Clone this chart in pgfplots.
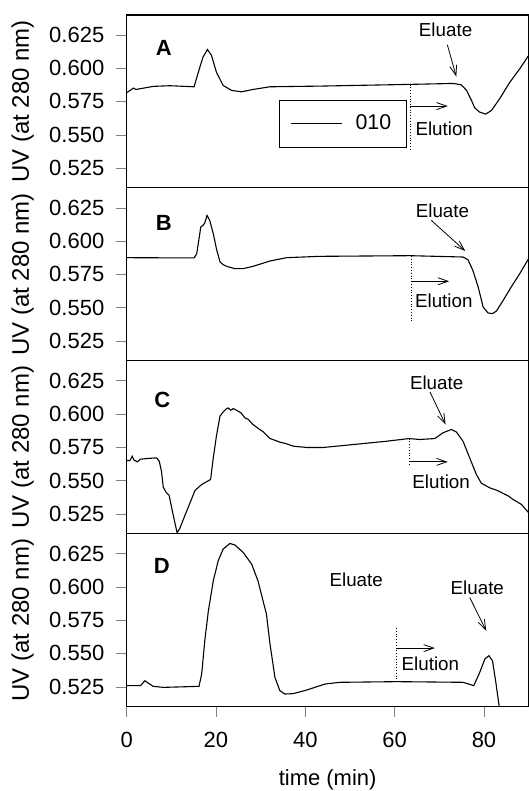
\documentclass[border=0pt]{standalone}
\usepackage{fontspec}
\setmainfont{Liberation Sans}
\usepackage{pgfplots}
\pgfplotsset{compat=1.18}
\usepgfplotslibrary{groupplots}
\usetikzlibrary{arrows.meta}

\newcommand{\tickfont}{\fontsize{11}{13}\selectfont}
\newcommand{\notefont}{\fontsize{9.4}{11}\selectfont}

\tikzset{
  eluate/.style={-{Straight Barb[length=5pt,width=3.5pt]}, line width=0.4pt},
  startline/.style={densely dotted, line width=0.4pt},
}

\pgfplotsset{
  trace/.style={black, line width=0.55pt, mark=none},
  panel/.style={
    width=201.15pt, height=86.5pt, scale only axis,
    xmin=0, xmax=90, ymin=0.5101, ymax=0.6399,
    ytick={0.525,0.550,0.575,0.600,0.625},
    yticklabel style={/pgf/number format/fixed,
      /pgf/number format/precision=3,
      /pgf/number format/fixed zerofill, xshift=-2.5pt},
    xticklabel style={yshift=-4pt},
    /pgf/number format/assume math mode=true,
    tick label style={font=\tickfont},
    tick align=outside, major tick length=5.15pt,
    ytick pos=left, xtick pos=lower,
    axis line style={line width=0.6pt},
    ylabel={UV (at 280 nm)},
    ylabel style={at={(axis description cs:-0.2585,0.5)}, anchor=center,
      font=\fontsize{12}{14}\selectfont},
  },
}

\begin{document}
\begin{tikzpicture}
\begin{groupplot}[
  group style={group name=G, group size=1 by 4, vertical sep=0pt},
  panel]

% ---- A
\nextgroupplot[xtick=\empty,
  legend style={at={(0.3793,0.509)}, anchor=north west, draw=black,
    inner xsep=5.7pt, inner ysep=5.3pt, column sep=4.3pt,
    font=\fontsize{10.7}{12}\selectfont},
  legend image code/.code={\draw[#1] (0pt,0pt) -- (25.5pt,0pt);}]
\addplot[trace] coordinates {
 (0,0.5815) (1.1,0.584) (1.5,0.585) (2.1,0.584) (6.0,0.5863) (9.7,0.5868)
 (15.1,0.586) (16.4,0.6008) (17.1,0.6083) (18.1,0.614) (19.0,0.6095)
 (20.1,0.597) (21.6,0.587) (23.5,0.5833) (25.7,0.5822) (28.3,0.584)
 (32.1,0.586) (43.2,0.5865) (63.4,0.5878) (73.1,0.5885) (74.9,0.5875)
 (76.1,0.5833) (77.2,0.5758) (77.9,0.5703) (79.0,0.567) (80.4,0.5655)
 (81.7,0.5683) (83.5,0.577) (85.8,0.5895) (88.0,0.5995) (90.0,0.6095)
};
\addlegendentry{010}
\node[font=\fontsize{11}{13}\selectfont\bfseries] at (axis cs:8.3,0.6152) {A};
\draw[startline] (axis cs:63.5,0.5877) -- (axis cs:63.5,0.539);
\draw[eluate] (axis cs:63.5,0.5715) -- (axis cs:71.9,0.5715);
\node[font=\notefont] at (axis cs:71.1,0.5545) {Elution};
\node[font=\notefont] at (axis cs:71.4,0.629) {Eluate};
\draw[eluate] (axis cs:71.8,0.6175) -- (axis cs:73.8,0.5937);

% ---- B
\nextgroupplot[xtick=\empty]
\addplot[trace] coordinates {
 (0,0.5875) (15.1,0.5873) (15.7,0.5905) (16.6,0.6105) (17.1,0.6118)
 (17.5,0.6135) (18.0,0.6193) (18.6,0.6155) (19.4,0.6055) (20.1,0.5943)
 (20.9,0.5843) (21.6,0.5823) (22.4,0.581) (24.2,0.5793) (26.1,0.5793)
 (28.3,0.581) (32.1,0.585) (35.8,0.5875) (43.2,0.5885) (63.4,0.589)
 (75.3,0.588) (76.4,0.586) (77.5,0.578) (78.7,0.5655) (79.8,0.5505)
 (80.9,0.546) (81.9,0.5455) (82.8,0.5475) (84.3,0.5555) (86.1,0.5655)
 (88.0,0.5755) (90.0,0.5868)
};
\node[font=\fontsize{11}{13}\selectfont\bfseries] at (axis cs:8.3,0.6138) {B};
\draw[startline] (axis cs:63.8,0.5888) -- (axis cs:63.8,0.5393);
\draw[eluate] (axis cs:63.8,0.5698) -- (axis cs:72.2,0.5698);
\node[font=\notefont] at (axis cs:71.0,0.5555) {Elution};
\node[font=\notefont] at (axis cs:70.7,0.623) {Eluate};
\draw[eluate] (axis cs:68.2,0.6155) -- (axis cs:75.8,0.5925);

% ---- C
\nextgroupplot[xtick=\empty]
\addplot[trace] coordinates {
 (0,0.565) (0.75,0.565) (1.25,0.5683) (1.6,0.5655) (2.4,0.564) (3.1,0.566)
 (4.5,0.5665) (6.7,0.567) (7.3,0.5645) (7.8,0.557) (8.2,0.545) (8.9,0.5408)
 (9.5,0.539) (10.4,0.5245) (11.3,0.5108) (11.9,0.514) (13.0,0.5233)
 (14.2,0.5333) (15.3,0.5425) (16.8,0.547) (18.8,0.5508) (19.4,0.567)
 (20.1,0.5833) (20.9,0.5983) (21.6,0.6015) (22.2,0.6035) (22.7,0.6045)
 (23.3,0.6028) (23.9,0.6040) (25.0,0.602) (25.6,0.6008) (26.5,0.597)
 (27.2,0.5960) (28.3,0.592) (29.8,0.5883) (30.5,0.5868) (32.1,0.5815)
 (33.4,0.5800) (34.3,0.5788) (35.6,0.5778) (37.3,0.5758) (40.3,0.5748)
 (44.0,0.5748) (50.7,0.577) (58.2,0.5795) (63.2,0.5815) (65.6,0.5808)
 (69.0,0.5815) (70.8,0.5858) (72.7,0.5883) (73.8,0.5865) (75.3,0.5795)
 (76.8,0.567) (78.3,0.5545) (79.4,0.548) (81.3,0.5445) (83.0,0.5425)
 (84.3,0.5403) (85.4,0.5385) (86.5,0.5358) (88.4,0.532) (90.0,0.5258)
};
\node[font=\fontsize{11}{13}\selectfont\bfseries] at (axis cs:8.0,0.6108) {C};
\draw[startline] (axis cs:63.2,0.5815) -- (axis cs:63.2,0.562);
\draw[eluate] (axis cs:63.4,0.564) -- (axis cs:71.9,0.564);
\node[font=\notefont] at (axis cs:70.4,0.549) {Elution};
\node[font=\notefont] at (axis cs:69.4,0.6233) {Eluate};
\draw[eluate] (axis cs:67.9,0.6165) -- (axis cs:71.4,0.592);

% ---- D
\nextgroupplot[xtick={0,20,40,60,80},
  xlabel={time (min)},
  xlabel style={at={(axis description cs:0.5,-0.455)}, anchor=base,
    font=\fontsize{11}{13}\selectfont}]
\addplot[trace] coordinates {
 (0,0.5258) (3.1,0.5258) (4.1,0.5295) (4.8,0.5278) (5.95,0.5253) (8.2,0.5245)
 (13.4,0.525) (16.2,0.5253) (16.8,0.5345) (17.5,0.5595) (18.3,0.582)
 (19.4,0.6045) (20.5,0.6195) (21.6,0.6283) (23.1,0.6325) (24.2,0.6315)
 (26.1,0.6258) (28.0,0.617) (29.4,0.6045) (31.3,0.5795) (32.1,0.557)
 (33.2,0.532) (34.3,0.522) (35.4,0.5195) (37.3,0.5198) (40.3,0.5225)
 (44.4,0.527) (47.7,0.5283) (60.5,0.5288) (75.3,0.5283) (77.7,0.5258)
 (78.9,0.5345) (80.2,0.5458) (81.1,0.5483) (81.9,0.5445) (82.6,0.5295)
 (83.4,0.5103) (83.6,0.505)
};
\node[font=\fontsize{11}{13}\selectfont\bfseries] at (axis cs:7.9,0.6153) {D};
\draw[startline] (axis cs:60.5,0.569) -- (axis cs:60.5,0.5288);
\draw[eluate] (axis cs:60.5,0.554) -- (axis cs:69.0,0.554);
\node[font=\notefont] at (axis cs:68.0,0.542) {Elution};
\node[font=\notefont] at (axis cs:51.4,0.6053) {Eluate};
\node[font=\notefont] at (axis cs:78.5,0.5993) {Eluate};
\draw[eluate] (axis cs:76.8,0.592) -- (axis cs:80.5,0.567);
\end{groupplot}
\pgfresetboundingbox
\path[use as bounding box] ([xshift=-63.35pt,yshift=7.5pt]G c1r1.north west)
  rectangle ([yshift=-42.25pt]G c1r4.south east);
\end{tikzpicture}
\end{document}
